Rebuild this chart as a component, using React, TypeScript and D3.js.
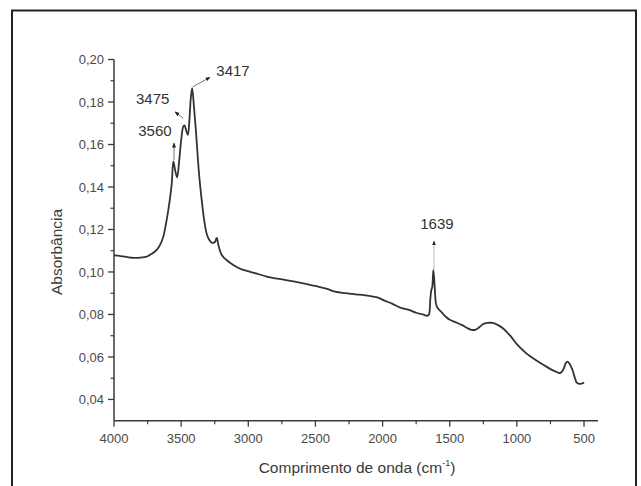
import React from "react";
import * as d3 from "d3";

const wavenumbers = [
  4000, 3950, 3900, 3856, 3800, 3757, 3720, 3682, 3655, 3633, 3615, 3596, 3580, 3570, 3558,
  3545, 3530, 3515, 3500, 3484, 3475, 3462, 3450, 3438, 3428, 3418, 3405, 3392, 3380, 3365,
  3347, 3330, 3310, 3290, 3272, 3250, 3235, 3222, 3198, 3160, 3112, 3050, 2987, 2950, 2863,
  2800, 2719, 2600, 2503, 2420, 2354, 2280, 2200, 2100, 2049, 2020, 1989, 1926, 1870, 1805,
  1750, 1700, 1670, 1655, 1645, 1637, 1630, 1622, 1612, 1602, 1590, 1560, 1530, 1500, 1450,
  1408, 1370, 1340, 1310, 1280, 1250, 1220, 1180, 1140, 1104, 1050, 1000, 960, 920, 860,
  800, 739, 700, 678, 655, 635, 623, 605, 586, 570, 555, 540, 520, 500,
];
const absorbance = [
  0.1078, 0.1075, 0.107, 0.1066, 0.1068, 0.1072, 0.1085, 0.1104, 0.113, 0.1166, 0.122, 0.129, 0.136, 0.1417, 0.152,
  0.148, 0.1445, 0.152, 0.162, 0.1685, 0.169, 0.1665, 0.1645, 0.172, 0.182, 0.1865, 0.178, 0.168, 0.1574, 0.145,
  0.1339, 0.125, 0.118, 0.115, 0.1138, 0.114, 0.116, 0.1125, 0.108, 0.1055, 0.1033, 0.1012, 0.1001, 0.0995, 0.0978,
  0.097, 0.0962, 0.0948, 0.0934, 0.0922, 0.0907, 0.09, 0.0895, 0.0888, 0.0882, 0.0876, 0.0866, 0.085, 0.0832, 0.0822,
  0.0808, 0.08, 0.0794, 0.08, 0.087, 0.0915, 0.093, 0.101, 0.093, 0.085, 0.083, 0.081, 0.079, 0.0775, 0.0762,
  0.075, 0.0736, 0.0728, 0.0728, 0.074, 0.0755, 0.076, 0.076, 0.075, 0.0735, 0.07, 0.066, 0.0635, 0.0612, 0.0586,
  0.0562, 0.0539, 0.0528, 0.0524, 0.054, 0.0572, 0.0578, 0.0565, 0.0539, 0.0505, 0.048, 0.0474, 0.0474, 0.048,
];

const xTicks = [4000, 3500, 3000, 2500, 2000, 1500, 1000, 500];
const xMinorTicks = [3750, 3250, 2750, 2250, 1750, 1250, 750];
const yTicks = [0.04, 0.06, 0.08, 0.1, 0.12, 0.14, 0.16, 0.18, 0.2];
const yMinorTicks = [0.05, 0.07, 0.09, 0.11, 0.13, 0.15, 0.17, 0.19];

// annotations: label, text position (data), arrow from -> to (data)
const annLabels = ["3560", "3475", "3417", "1639"];
const annTextX = [3695, 3712, 3114, 1595];
const annTextY = [0.1664, 0.1814, 0.1946, 0.1226];
const annFromX = [3553, 3484, 3412, 1617];
const annFromY = [0.1527, 0.1723, 0.1872, 0.1009];
const annToX = [3553, 3546, 3285, 1617];
const annToY = [0.1607, 0.1754, 0.1916, 0.1146];

const W = 641;
const H = 486;
const x0 = 114;
const x1 = 598;
const yTop = 59.5;
const yBot = 420.7;

export default function App() {
  const x = d3.scaleLinear().domain([4000, 396]).range([x0, x1]);
  const y = d3.scaleLinear().domain([0.03, 0.2]).range([yBot, yTop]);
  const pts = wavenumbers.map((v, i) => [v, absorbance[i]] as [number, number]);
  const line = d3
    .line<[number, number]>()
    .x((d) => x(d[0]))
    .y((d) => y(d[1]))
    .curve(d3.curveCatmullRom.alpha(0.5));
  const fmt = (v: number) => v.toFixed(2).replace(".", ",");
  const axisColor = "#3a3a3a";
  const font = "Arial, 'Liberation Sans', sans-serif";

  return (
    <svg
      width={W}
      height={H}
      viewBox={`0 0 ${W} ${H}`}
      style={{ position: "absolute", left: 0, top: 0, background: "#fff" }}
    >
      <defs>
        <marker id="ah" viewBox="0 0 10 10" refX="9" refY="5" markerWidth="5" markerHeight="5" orient="auto">
          <path d="M0,1 L10,5 L0,9 Z" fill="#222" />
        </marker>
      </defs>
      <rect x={0} y={0} width={W} height={H} fill="#fff" />
      {/* frame */}
      <path d={`M12,${H} L12,10.5 L636,10.5 L636,${H}`} fill="none" stroke="#222" strokeWidth={2} />

      {/* axes */}
      <line x1={x0} y1={yTop} x2={x0} y2={yBot} stroke={axisColor} strokeWidth={1.5} />
      <line x1={x0} y1={yBot} x2={x1} y2={yBot} stroke={axisColor} strokeWidth={1.5} />

      {yTicks.map((t) => (
        <g key={"yt" + t}>
          <line x1={x0 - 6} x2={x0} y1={y(t)} y2={y(t)} stroke={axisColor} strokeWidth={1.3} />
          <text
            x={x0 - 10}
            y={y(t)}
            dy="0.35em"
            textAnchor="end"
            fontFamily={font}
            fontSize={13}
            fill="#4a4a4a"
          >
            {fmt(t)}
          </text>
        </g>
      ))}
      {yMinorTicks.map((t) => (
        <line key={"ym" + t} x1={x0 - 3.5} x2={x0} y1={y(t)} y2={y(t)} stroke={axisColor} strokeWidth={1.2} />
      ))}
      {xTicks.map((t) => (
        <g key={"xt" + t}>
          <line x1={x(t)} x2={x(t)} y1={yBot} y2={yBot + 6} stroke={axisColor} strokeWidth={1.3} />
          <text
            x={x(t)}
            y={yBot + 22}
            textAnchor="middle"
            fontFamily={font}
            fontSize={13}
            fill="#4a4a4a"
          >
            {t}
          </text>
        </g>
      ))}
      {xMinorTicks.map((t) => (
        <line key={"xm" + t} x1={x(t)} x2={x(t)} y1={yBot} y2={yBot + 3.5} stroke={axisColor} strokeWidth={1.2} />
      ))}

      {/* titles */}
      <text
        transform={`translate(${62},${252}) rotate(-90)`}
        textAnchor="middle"
        fontFamily={font}
        fontSize={15.5}
        fill="#3a3a3a"
      >
        Absorbância
      </text>
      <text x={357} y={473} textAnchor="middle" fontFamily={font} fontSize={15.5} fill="#3a3a3a">
        Comprimento de onda (cm
        <tspan fontSize={9} dy={-7}>-1</tspan>
        <tspan dy={7}>)</tspan>
      </text>

      {/* spectrum */}
      <path d={line(pts) || ""} fill="none" stroke="#333" strokeWidth={1.8} strokeLinejoin="round" />

      {/* annotations */}
      {annLabels.map((lab, i) => (
        <g key={"an" + lab}>
          <line
            x1={x(annFromX[i])}
            y1={y(annFromY[i])}
            x2={x(annToX[i])}
            y2={y(annToY[i])}
            stroke={i === 3 ? "#bbb" : "#777"}
            strokeWidth={1}
            markerEnd="url(#ah)"
          />
          <text
            x={x(annTextX[i])}
            y={y(annTextY[i])}
            dy="0.35em"
            textAnchor="middle"
            fontFamily={font}
            fontSize={15}
            fill="#333"
          >
            {lab}
          </text>
        </g>
      ))}
    </svg>
  );
}
